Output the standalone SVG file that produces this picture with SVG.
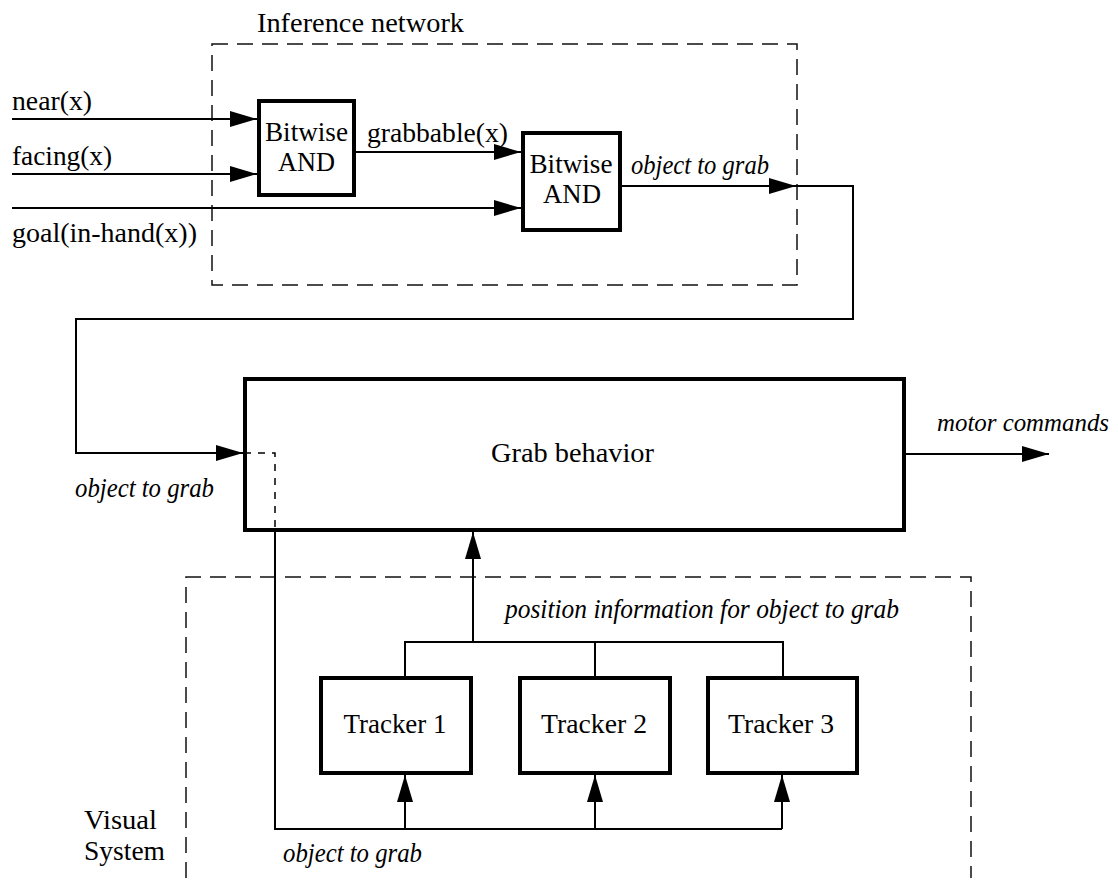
<svg xmlns="http://www.w3.org/2000/svg" width="1118" height="881" viewBox="0 0 1118 881">
  <defs>
    <style>
      .box { fill: #fff; stroke: #000; stroke-width: 4; }
      .wire { fill: none; stroke: #000; stroke-width: 2; stroke-linejoin: miter; }
      .frame { fill: none; stroke: #111; stroke-width: 1.5; stroke-dasharray: 16 9; }
      .hidden { fill: none; stroke: #000; stroke-width: 1.5; stroke-dasharray: 7 7; }
      text { font-family: "Liberation Serif", "Times New Roman", serif; font-size: 27px; fill: #000; }
      .it { font-style: italic; }
      .mid { text-anchor: middle; }
      .edge { font-size: 25px; }
    </style>
    <marker id="arrow" markerUnits="userSpaceOnUse" markerWidth="27" markerHeight="16" refX="27" refY="8" orient="auto">
      <path d="M0,0 L27,8 L0,16 Z" fill="#000"/>
    </marker>
  </defs>

  <rect width="1118" height="881" fill="#fff"/>

  <!-- grouping frames -->
  <g id="inference-network">
    <rect class="frame" x="212" y="44" width="585" height="241"/>
    <text x="257" y="32" textLength="207" lengthAdjust="spacingAndGlyphs">Inference network</text>
  </g>
  <g id="visual-system">
    <path class="frame" d="M186,878 V577 H971 V878"/>
    <text x="84" y="829" textLength="73" lengthAdjust="spacingAndGlyphs">Visual</text>
    <text x="84" y="860" textLength="81" lengthAdjust="spacingAndGlyphs">System</text>
  </g>

  <!-- connectors -->
  <g id="connectors">
    <path class="wire" d="M12,119 H257" marker-end="url(#arrow)"/>
    <path class="wire" d="M12,174 H257" marker-end="url(#arrow)"/>
    <path class="wire" d="M12,208 H521" marker-end="url(#arrow)"/>
    <path class="wire" d="M356,152 H521" marker-end="url(#arrow)"/>
    <path class="wire" d="M622,186 H796" marker-end="url(#arrow)"/>
    <path class="wire" d="M796,186 H853 V319 H76 V453 H243" marker-end="url(#arrow)"/>
    <path class="hidden" d="M244,453 H275 V530"/>
    <path class="wire" d="M275,532 V829 H782"/>
    <path class="wire" d="M405,829 V775" marker-end="url(#arrow)"/>
    <path class="wire" d="M595,829 V775" marker-end="url(#arrow)"/>
    <path class="wire" d="M782,829 V775" marker-end="url(#arrow)"/>
    <path class="wire" d="M405,676 V642 H783 V676"/>
    <path class="wire" d="M595,642 V676"/>
    <path class="wire" d="M473,642 V532" marker-end="url(#arrow)"/>
    <path class="wire" d="M906,454 H1049" marker-end="url(#arrow)"/>

    <text x="12" y="110" textLength="80" lengthAdjust="spacingAndGlyphs">near(x)</text>
    <text x="12" y="165" textLength="100" lengthAdjust="spacingAndGlyphs">facing(x)</text>
    <text x="12" y="242" textLength="185" lengthAdjust="spacingAndGlyphs">goal(in-hand(x))</text>
    <text x="367" y="142" textLength="141" lengthAdjust="spacingAndGlyphs">grabbable(x)</text>
    <text class="it" x="631" y="174" textLength="138" lengthAdjust="spacingAndGlyphs">object to grab</text>
    <text class="it" x="75" y="497" textLength="139" lengthAdjust="spacingAndGlyphs">object to grab</text>
    <text class="it edge" x="937" y="431" textLength="172" lengthAdjust="spacingAndGlyphs">motor commands</text>
    <text class="it" x="505" y="618" textLength="394" lengthAdjust="spacingAndGlyphs">position information for object to grab</text>
    <text class="it" x="283" y="862" textLength="139" lengthAdjust="spacingAndGlyphs">object to grab</text>
  </g>

  <!-- nodes -->
  <g id="and-1">
    <rect class="box" x="259" y="101" width="95" height="94"/>
    <text class="mid" x="306.5" y="141" textLength="83" lengthAdjust="spacingAndGlyphs">Bitwise</text>
    <text class="mid" x="306.5" y="171" textLength="57" lengthAdjust="spacingAndGlyphs">AND</text>
  </g>
  <g id="and-2">
    <rect class="box" x="523" y="133" width="97" height="97"/>
    <text class="mid" x="571" y="173" textLength="83" lengthAdjust="spacingAndGlyphs">Bitwise</text>
    <text class="mid" x="572" y="203" textLength="58" lengthAdjust="spacingAndGlyphs">AND</text>
  </g>
  <g id="grab-behavior">
    <rect class="box" x="245" y="379" width="659" height="151" style="fill:none"/>
    <text x="491" y="462" textLength="163" lengthAdjust="spacingAndGlyphs">Grab behavior</text>
  </g>
  <g id="tracker-1">
    <rect class="box" x="321" y="678" width="150" height="95"/>
    <text class="mid" x="395" y="733" textLength="103" lengthAdjust="spacingAndGlyphs">Tracker 1</text>
  </g>
  <g id="tracker-2">
    <rect class="box" x="520" y="678" width="150" height="95"/>
    <text class="mid" x="594" y="733" textLength="106" lengthAdjust="spacingAndGlyphs">Tracker 2</text>
  </g>
  <g id="tracker-3">
    <rect class="box" x="708" y="678" width="149" height="95"/>
    <text class="mid" x="781" y="733" textLength="106" lengthAdjust="spacingAndGlyphs">Tracker 3</text>
  </g>
</svg>
